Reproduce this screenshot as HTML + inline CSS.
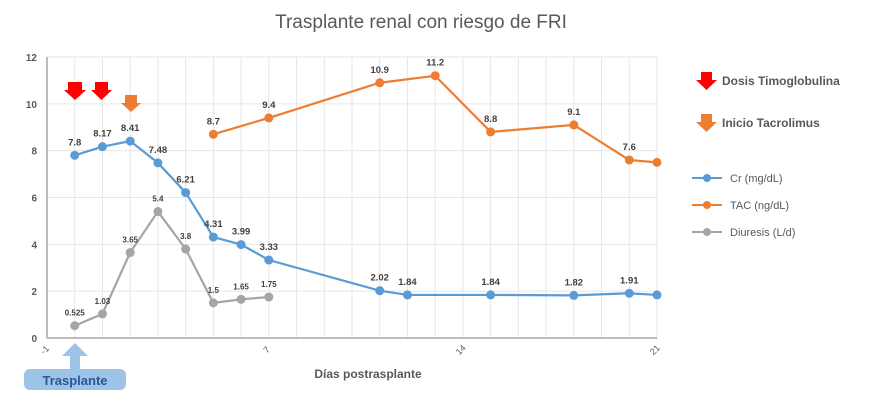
<!DOCTYPE html>
<html><head><meta charset="utf-8"><style>
body{margin:0;background:#fff;font-family:"Liberation Sans",sans-serif}
svg text{font-family:"Liberation Sans",sans-serif}
</style></head><body>
<svg width="887" height="404" viewBox="0 0 887 404">
<text x="421" y="28" text-anchor="middle" font-size="19" fill="#595959">Trasplante renal con riesgo de FRI</text>
<g id="grid"></g><g id="axes"></g><g id="series"></g>
<text x="368" y="378" text-anchor="middle" font-size="12" font-weight="bold" fill="#595959">Días postrasplante</text>
<g>
<polygon points="701,72 712,72 712,80 717,80 706.5,90 696,80 701,80" fill="#f00"/>
<text x="722" y="85" font-size="12" font-weight="bold" fill="#595959">Dosis Timoglobulina</text>
<polygon points="701,114 712,114 712,122 717,122 706.5,132 696,122 701,122" fill="#ed7d31"/>
<text x="722" y="127" font-size="12" font-weight="bold" fill="#595959">Inicio Tacrolimus</text>
<line x1="692" y1="178" x2="722" y2="178" stroke="#5b9bd5" stroke-width="2"/><circle cx="707" cy="178" r="4" fill="#5b9bd5"/>
<text x="730" y="182" font-size="11" fill="#595959">Cr (mg/dL)</text>
<line x1="692" y1="205" x2="722" y2="205" stroke="#ed7d31" stroke-width="2"/><circle cx="707" cy="205" r="4" fill="#ed7d31"/>
<text x="730" y="209" font-size="11" fill="#595959">TAC (ng/dL)</text>
<line x1="692" y1="232" x2="722" y2="232" stroke="#a5a5a5" stroke-width="2"/><circle cx="707" cy="232" r="4" fill="#a5a5a5"/>
<text x="730" y="236" font-size="11" fill="#595959">Diuresis (L/d)</text>
</g>
<polygon points="68,82 82,82 82,90 86,90 75,100 64,90 68,90" fill="#f00"/>
<polygon points="95,82 108,82 108,90 112,90 101.5,100 91,90 95,90" fill="#f00"/>
<polygon points="125,95 137,95 137,103 141,103 131,112 121,103 125,103" fill="#ed7d31"/>
<polygon points="70,369 80,369 80,356 88,356 75,343 62,356 70,356" fill="#9dc3e6"/>
<rect x="24" y="369" width="102" height="21" rx="6" fill="#9dc3e6"/>
<text x="75" y="385" text-anchor="middle" font-size="13" font-weight="bold" fill="#2f5597">Trasplante</text>
</svg>
<script>
const xTicks=[-1,7,14,21];
const yTicks=[0,2,4,6,8,10,12];
const crDays=[0,1,2,3,4,5,6,7,11,12,15,18,20,21];
const crValues=[7.8,8.17,8.41,7.48,6.21,4.31,3.99,3.33,2.02,1.84,1.84,1.82,1.91,1.84];
const crLabels=["7.8","8.17","8.41","7.48","6.21","4.31","3.99","3.33","2.02","1.84","1.84","1.82","1.91",""];
const tacDays=[5,7,11,13,15,18,20,21];
const tacValues=[8.7,9.4,10.9,11.2,8.8,9.1,7.6,7.5];
const tacLabels=["8.7","9.4","10.9","11.2","8.8","9.1","7.6",""];
const diuDays=[0,1,2,3,4,5,6,7];
const diuValues=[0.525,1.03,3.65,5.4,3.8,1.5,1.65,1.75];
const diuLabels=["0.525","1.03","3.65","5.4","3.8","1.5","1.65","1.75"];
const NS="http://www.w3.org/2000/svg";
const X0=47,X1=657,Y0=338,Y1=57;
const xs=d=>X0+(d+1)*(X1-X0)/22;
const ys=v=>Y0-v*(Y0-Y1)/12;
function mk(tag,attrs,parent){const e=document.createElementNS(NS,tag);for(const k in attrs)e.setAttribute(k,attrs[k]);parent.appendChild(e);return e;}
const grid=document.getElementById('grid'),axes=document.getElementById('axes'),ser=document.getElementById('series');
for(let d=0;d<=21;d++){const l=mk('line',{x1:xs(d),x2:xs(d),y1:Y1,y2:Y0,stroke:'#e6e6e6'},grid);

}
yTicks.forEach(v=>{const l=mk('line',{x1:X0,x2:X1,y1:ys(v),y2:ys(v),stroke:'#e6e6e6'},grid);


const t=mk('text',{x:X0-10,y:ys(v)+4,'text-anchor':'end','font-size':10,'font-weight':'bold',fill:'#595959'},axes);t.textContent=v;

});
const ax=mk('line',{x1:X0,x2:X1,y1:Y0,y2:Y0,stroke:'#a6a6a6','stroke-width':1.5},axes);


const ay=mk('line',{x1:X0,x2:X0,y1:Y1,y2:Y0,stroke:'#a6a6a6','stroke-width':1.5},axes);


xTicks.forEach(d=>{const x=xs(d),y=Y0+14;const t=mk('text',{x:x,y:y,'text-anchor':'middle','font-size':9,fill:'#595959',transform:`rotate(-45 ${x} ${y})`},axes);t.textContent=d;

});
function series(days,vals,labels,color,name){
const g=mk('g',{},ser);


const pl=mk('polyline',{points:days.map((d,i)=>xs(d)+','+ys(vals[i])).join(' '),fill:'none',stroke:color,'stroke-width':2.2},g);


days.forEach((d,i)=>{const c=mk('circle',{cx:xs(d),cy:ys(vals[i]),r:4.5,fill:color},g);


if(labels[i]){const t=mk('text',{x:xs(d),y:ys(vals[i])-10,'text-anchor':'middle','font-size':name==='diuresis'?8:9.5,'font-weight':'bold',fill:'#404040'},g);t.textContent=labels[i];

}});}
series(diuDays,diuValues,diuLabels,'#a5a5a5','diuresis');
series(crDays,crValues,crLabels,'#5b9bd5','cr');
series(tacDays,tacValues,tacLabels,'#ed7d31','tac');
</script>
</body></html>
